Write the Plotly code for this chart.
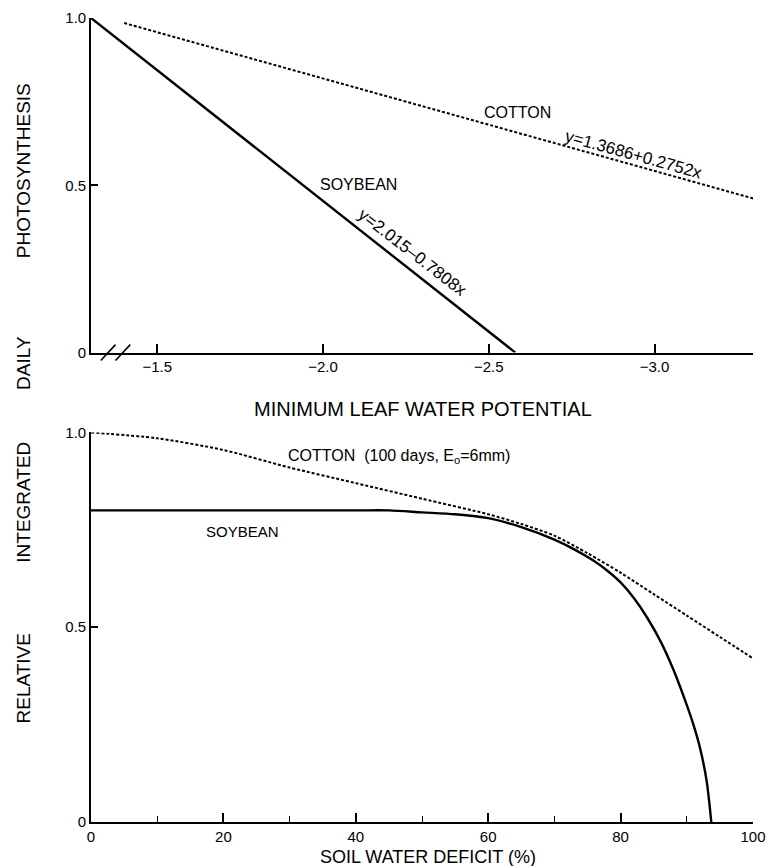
import plotly.graph_objects as go

# ---------------- data ----------------
# top panel: minimum leaf water potential vs relative photosynthesis
top_soy_x = [-1.3, -2.58]
top_soy_y = [1.0, 0.0]
top_cot_x = [-1.40, -3.30]
top_cot_y = [0.985, 0.46]

top_xticks = [-1.5, -2.0, -2.5, -3.0]
top_xticklabels = ["\u22121.5", "\u22122.0", "\u22122.5", "\u22123.0"]
y_ticks = [0, 0.5, 1.0]
y_ticklabels = ["0", "0.5", "1.0"]

# bottom panel: soil water deficit (%)
bot_cot_x = [0, 10, 20, 30, 40, 50, 60, 65, 70, 75, 80, 85, 90, 95, 100]
bot_cot_y = [1.0, 0.985, 0.955, 0.91, 0.87, 0.83, 0.79, 0.765, 0.735, 0.69, 0.64, 0.585, 0.53, 0.475, 0.42]
bot_soy_x = [0, 10, 20, 30, 40, 45, 50, 55, 60, 65, 70, 73, 76, 78, 80, 82, 84, 86, 88, 90, 91, 92, 93, 93.7]
bot_soy_y = [0.80, 0.80, 0.80, 0.80, 0.80, 0.80, 0.795, 0.79, 0.78, 0.757, 0.725, 0.70, 0.67, 0.645, 0.615,
             0.575, 0.525, 0.465, 0.39, 0.30, 0.25, 0.19, 0.105, 0.0]
bot_xticks = [0, 20, 40, 60, 80, 100]
bot_xticklabels = ["0", "20", "40", "60", "80", "100"]

# ---------------- layout geometry ----------------
W, H = 775, 866
ML, MR, MT, MB = 91, 9, 17, 44
PW = W - ML - MR
PH = H - MT - MB


def py(pix):
    return (H - MB - pix) / PH


def px(pix):
    return (pix - ML) / PW


FONT = "Liberation Sans, Arial, Helvetica, sans-serif"
TICKFONT = dict(family=FONT, size=15, color="black")

fig = go.Figure()

fig.add_trace(go.Scatter(x=top_cot_x, y=top_cot_y, mode="lines", xaxis="x", yaxis="y",
                         line=dict(color="black", width=2, dash="3px,2px"), showlegend=False))
fig.add_trace(go.Scatter(x=top_soy_x, y=top_soy_y, mode="lines", xaxis="x", yaxis="y",
                         line=dict(color="black", width=2.4), showlegend=False))
fig.add_trace(go.Scatter(x=bot_cot_x, y=bot_cot_y, mode="lines", xaxis="x2", yaxis="y2",
                         line=dict(color="black", width=2, dash="3px,2px", shape="spline",
                                   smoothing=0.8),
                         showlegend=False))
fig.add_trace(go.Scatter(x=bot_soy_x, y=bot_soy_y, mode="lines", xaxis="x2", yaxis="y2",
                         line=dict(color="black", width=2.4, shape="spline", smoothing=0.8),
                         showlegend=False))

axis_common = dict(showgrid=False, zeroline=False, showline=True, linecolor="black",
                   linewidth=1.6, ticks="inside", tickcolor="black", tickwidth=1.6,
                   tickfont=TICKFONT, ticklabeloverflow="allow")

fig.update_layout(
    width=W, height=H,
    margin=dict(l=ML, r=MR, t=MT, b=MB),
    paper_bgcolor="white", plot_bgcolor="white",
    xaxis=dict(domain=[0, 1], anchor="y", range=[-1.3, -3.297],
               tickvals=top_xticks, ticktext=top_xticklabels, ticklen=9, **axis_common),
    yaxis=dict(domain=[py(352), 1.0], anchor="x", range=[0, 1.0],
               tickvals=y_ticks, ticktext=y_ticklabels, ticklen=7, **axis_common),
    xaxis2=dict(domain=[0, 1], anchor="y2", range=[0, 100],
                tickvals=bot_xticks, ticktext=bot_xticklabels, ticklen=9,
                minor=dict(dtick=10, tick0=0, ticks="inside", ticklen=6,
                           tickcolor="black", tickwidth=1.4),
                **axis_common),
    yaxis2=dict(domain=[0, py(432)], anchor="x2", range=[0, 1.0],
                tickvals=y_ticks, ticktext=y_ticklabels, ticklen=7, **axis_common),
)


def label(x, y, text, size, xref="paper", yref="paper", angle=0, xanchor="center"):
    return dict(x=x, y=y, xref=xref, yref=yref, text=text, showarrow=False,
                textangle=angle, xanchor=xanchor, yanchor="middle",
                font=dict(family=FONT, size=size, color="black"))


ann = []
# top panel labels
ann.append(label(-2.586, 0.719, "COTTON", 16, "x", "y"))
ann.append(label(-2.935, 0.593, "y=1.3686+0.2752x", 17, "x", "y", angle=15.5))
ann.append(label(-2.106, 0.501, "SOYBEAN", 16, "x", "y"))
ann.append(label(-2.27, 0.30, "y=2.015\u20130.7808x", 17, "x", "y", angle=37.6))
# bottom panel labels
ann.append(label(px(290), py(456), "COTTON  (100 days, E<sub>o</sub>=6mm)", 16, xanchor="left"))
ann.append(label(px(245), py(531), "SOYBEAN", 15))
# axis titles
ann.append(label(px(430), py(408), "MINIMUM LEAF WATER POTENTIAL", 20))
ann.append(label(px(435), py(857), "SOIL WATER DEFICIT (%)", 18))
for word, ycen in [("PHOTOSYNTHESIS", 170), ("DAILY", 362), ("INTEGRATED", 502), ("RELATIVE", 678)]:
    ann.append(label(px(22), py(ycen), word, 19, angle=-90))
fig.update_layout(annotations=ann)

# axis break marks "//" on the top x axis
shapes = []
for x0 in (101, 116):
    shapes.append(dict(type="line", xref="paper", yref="paper",
                       x0=px(x0), y0=py(352 + 8), x1=px(x0 + 15), y1=py(352 - 8),
                       line=dict(color="black", width=1.6)))
fig.update_layout(shapes=shapes)

fig.write_html("out.html")
